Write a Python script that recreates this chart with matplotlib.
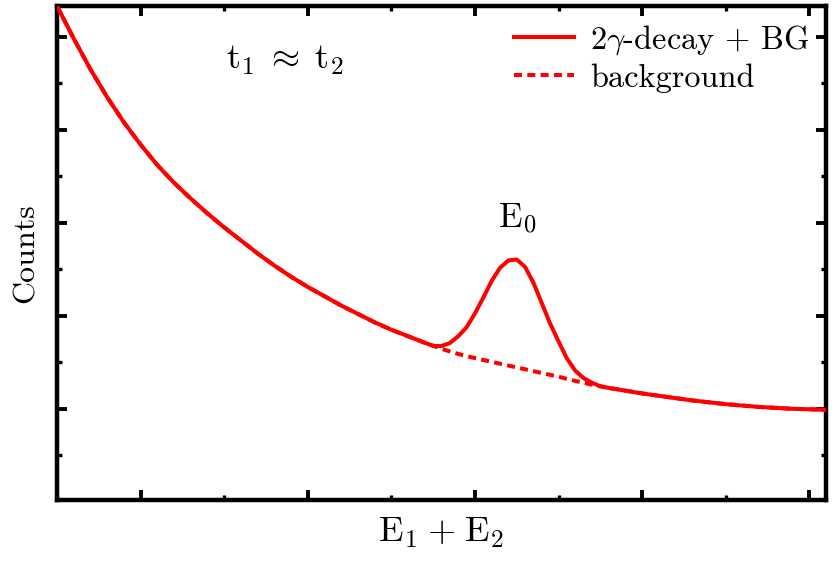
import numpy as np
import matplotlib.pyplot as plt
from matplotlib.ticker import MultipleLocator, NullFormatter

plt.rcParams['font.family'] = 'cmr10'
plt.rcParams['mathtext.fontset'] = 'cm'
plt.rcParams['axes.unicode_minus'] = False

RED = '#ff0000'

# energy axis (arbitrary units), finer steps across the peak
energy = [0.5, 0.6, 0.7, 0.8, 0.9, 1.0, 1.1, 1.2, 1.3, 1.4, 1.5, 1.6, 1.7, 1.8,
          1.9, 2.0, 2.1, 2.2, 2.3, 2.4, 2.5, 2.6, 2.7,
          2.75, 2.8, 2.85, 2.9, 2.95, 3.0, 3.05, 3.1, 3.15, 3.2, 3.25, 3.3,
          3.35, 3.4, 3.45, 3.5, 3.55, 3.6, 3.65, 3.7, 3.75,
          3.8, 3.9, 4.0, 4.1, 4.2, 4.3, 4.4, 4.5, 4.6, 4.7, 4.8, 4.9, 5.0, 5.1]
# smooth background
background = [5.33, 4.98, 4.65, 4.35, 4.08, 3.84, 3.62, 3.43, 3.26, 3.10, 2.95,
              2.81, 2.67, 2.54, 2.42, 2.31, 2.21, 2.11, 2.02, 1.93, 1.85, 1.78, 1.71,
              1.677, 1.645, 1.617, 1.59, 1.567, 1.545, 1.525, 1.505, 1.485, 1.465,
              1.445, 1.425, 1.405, 1.385, 1.365, 1.345, 1.322, 1.30, 1.28, 1.26, 1.242,
              1.225, 1.195, 1.165, 1.14, 1.115, 1.09, 1.07, 1.05, 1.035, 1.02, 1.01,
              1.0, 0.995, 0.989]
# excess counts from the 2-gamma decay line
signal = [0] * 23 + [0.0, 0.03, 0.09, 0.19, 0.31, 0.48, 0.67, 0.87, 1.03, 1.13,
                     1.16, 1.10, 0.95, 0.75, 0.55, 0.38, 0.22, 0.11, 0.05, 0.02,
                     0.0] + [0] * 14

bg = np.array(background)
total = bg + np.array(signal)

fig = plt.figure(figsize=(8.32, 5.64), dpi=100)
ax = fig.add_axes([0.0685, 0.1135, 0.9243, 0.8759])

ax.plot(energy, bg, c=RED, lw=2.9, ls=(0, (2.0, 1.3)), label='background', zorder=2)
ax.plot(energy, total, c=RED, lw=2.9, label=r'$2\gamma$-decay + BG', zorder=3)

ax.set_xlim(0.5, 5.1)
ax.set_ylim(0.02, 5.33)
ax.xaxis.set_major_locator(MultipleLocator(1))
ax.xaxis.set_minor_locator(MultipleLocator(0.5))
ax.yaxis.set_major_locator(MultipleLocator(1))
ax.yaxis.set_minor_locator(MultipleLocator(0.5))
ax.xaxis.set_major_formatter(NullFormatter())
ax.yaxis.set_major_formatter(NullFormatter())
ax.tick_params(which='both', direction='in', top=True, right=True)
ax.tick_params(which='major', length=7, width=2.8)
ax.tick_params(which='minor', length=3.5, width=2.4)
for s in ax.spines.values():
    s.set_linewidth(3.2)

ax.set_xlabel(r'$\mathrm{E}_1\;{+}\;\mathrm{E}_2$', fontsize=26, labelpad=8)
ax.set_ylabel('Counts', fontsize=23, labelpad=9)

ax.text(1.865, 4.75, r'$\mathrm{t}_1\;{\approx}\;\mathrm{t}_2$', fontsize=26,
        ha='center', va='center')
ax.text(3.254, 3.05, r'$\mathrm{E}_0$', fontsize=25, ha='center', va='center')

handles, labels = ax.get_legend_handles_labels()
ax.legend(handles[::-1], labels[::-1], loc='upper right', frameon=False, fontsize=23.3,
          handlelength=1.85, handletextpad=0.5, labelspacing=0.2,
          bbox_to_anchor=(1.0, 1.0), borderaxespad=0.12)

fig.savefig('out.png', dpi=100)
